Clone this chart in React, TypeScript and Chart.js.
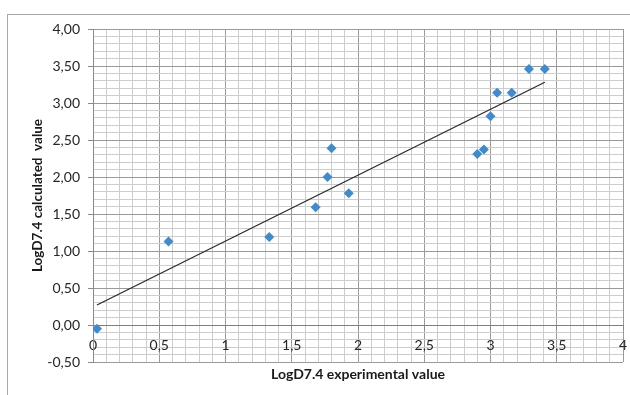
import React, { useEffect, useRef } from "react";
import { Chart, registerables } from "chart.js";

Chart.register(...registerables);

const xExperimental = [0.03, 0.57, 1.33, 1.68, 1.77, 1.80, 1.93, 2.90, 2.95, 3.00, 3.05, 3.16, 3.29, 3.41];
const yCalculated = [-0.05, 1.13, 1.19, 1.59, 2.00, 2.39, 1.78, 2.31, 2.37, 2.82, 3.14, 3.14, 3.46, 3.46];
const trendX = [0.03, 3.41];
const trendY = [0.27, 3.28];
const xTickLabels = ["0", "0,5", "1", "1,5", "2", "2,5", "3", "3,5", "4"];
const yTickLabels = ["-0,50", "0,00", "0,50", "1,00", "1,50", "2,00", "2,50", "3,00", "3,50", "4,00"];
const xMin = 0, xMax = 4, yMin = -0.5, yMax = 4;
const xTitle = "LogD7.4 experimental value";
const yTitle = "LogD7.4 calculated  value";

const FONT = "Lato";
const isMajor = (v: number) => Math.abs(v * 2 - Math.round(v * 2)) < 1e-6;
const minorTicks = (min: number, max: number) => {
  const out: { value: number }[] = [];
  const n = Math.round((max - min) * 10);
  for (let i = 0; i <= n; i++) out.push({ value: Math.round((min * 10 + i)) / 10 });
  return out;
};
const gridColor = (ctx: any) => (ctx.tick && isMajor(ctx.tick.value) ? "#9a9a9a" : "#cdcdcd");

export default function App() {
  const ref = useRef<HTMLCanvasElement>(null);
  useEffect(() => {
    if (!ref.current) return;
    const scatterData = xExperimental.map((x, i) => ({ x, y: yCalculated[i] }));
    const lineData = trendX.map((x, i) => ({ x, y: trendY[i] }));
    const chart = new Chart(ref.current, {
      type: "scatter",
      data: {
        datasets: [
          {
            data: lineData,
            showLine: true,
            borderColor: "#2b2b2b",
            borderWidth: 1.3,
            pointRadius: 0,
            order: 2,
          } as any,
          {
            data: scatterData,
            pointStyle: "rectRot",
            pointRadius: 5,
            backgroundColor: "#3f8bd0",
            borderColor: "#3f8bd0",
            borderWidth: 0,
            order: 1,
          },
        ],
      },
      options: {
        responsive: false,
        animation: false,
        layout: { padding: { left: 0, top: 29, right: 7, bottom: 0 } },
        plugins: { legend: { display: false }, tooltip: { enabled: false } },
        scales: {
          x: {
            type: "linear",
            position: { y: 0 } as any,
            min: xMin,
            max: xMax,
            afterBuildTicks: (s: any) => { s.ticks = minorTicks(xMin, xMax); },
            afterFit: (s: any) => { s.height = 0; s.paddingLeft = 0; s.paddingRight = 0; },
            grid: {
              color: gridColor,
              tickColor: (ctx: any) => (ctx.tick && isMajor(ctx.tick.value) ? "#8a8a8a" : "rgba(0,0,0,0)"),
              tickLength: 4,
              lineWidth: 1,
            },
            border: { color: "#7f7f7f", width: 1 },
            ticks: {
              autoSkip: false,
              maxRotation: 0,
              padding: 8,
              color: "#262626",
              font: { family: FONT, size: 14 },
              callback: (v: any) => (isMajor(v) ? xTickLabels[Math.round((v - xMin) * 2)] : ""),
            },
          },
          x2: {
            type: "linear",
            position: "bottom",
            min: xMin,
            max: xMax,
            afterFit: (s: any) => { s.height = 33; s.paddingLeft = 0; s.paddingRight = 0; },
            grid: { display: false },
            border: { display: false },
            ticks: { display: false },
            title: {
              display: true,
              text: xTitle,
              color: "#1a1a1a",
              font: { family: FONT, size: 14, weight: "bold" },
              padding: { top: 0, bottom: 12 },
            },
          },
          y: {
            type: "linear",
            position: "left",
            min: yMin,
            max: yMax,
            afterBuildTicks: (s: any) => { s.ticks = minorTicks(yMin, yMax); },
            afterFit: (s: any) => { s.width = 93; s.paddingTop = 0; s.paddingBottom = 0; },
            grid: {
              color: gridColor,
              tickColor: (ctx: any) => (ctx.tick && isMajor(ctx.tick.value) ? "#8a8a8a" : "rgba(0,0,0,0)"),
              tickLength: 5,
              lineWidth: 1,
            },
            border: { color: "#8a8a8a", width: 1 },
            ticks: {
              autoSkip: false,
              padding: 8,
              color: "#262626",
              font: { family: FONT, size: 14 },
              callback: (v: any) => (isMajor(v) ? yTickLabels[Math.round((v - yMin) * 2)] : ""),
            },
            title: {
              display: true,
              text: yTitle,
              color: "#1a1a1a",
              font: { family: FONT, size: 13.5, weight: "bold" },
              padding: { top: 30, bottom: 0 },
            },
          },
        },
      },
    });
    return () => chart.destroy();
  }, []);

  return (
    <div style={{ position: "fixed", left: 0, top: 0, width: 630, height: 395, overflow: "hidden", background: "#fff" }}>
      <div style={{ position: "absolute", left: 7, top: 14, width: 700, height: 500, border: "1px solid #a8a8a8" }} />
      <canvas ref={ref} width={630} height={395} style={{ position: "absolute", left: 0, top: 0 }} />
    </div>
  );
}
